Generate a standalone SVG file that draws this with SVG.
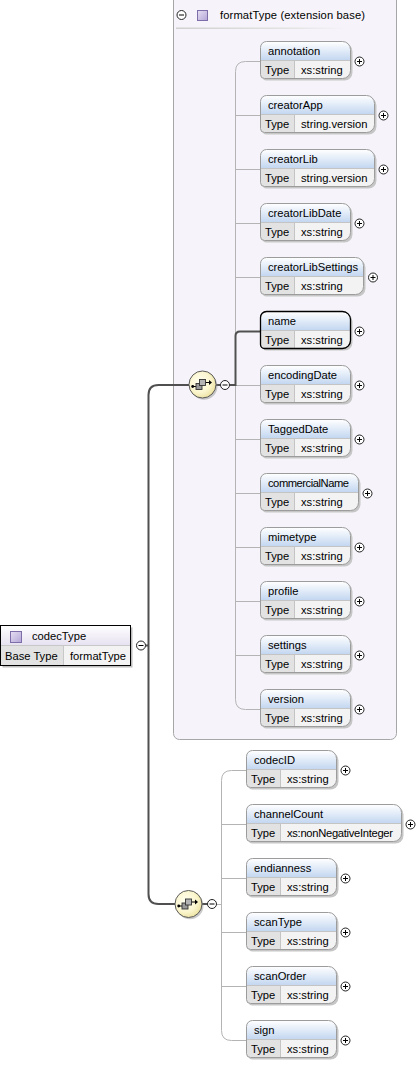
<svg xmlns="http://www.w3.org/2000/svg" xmlns:xlink="http://www.w3.org/1999/xlink" width="418" height="1065" viewBox="0 0 418 1065">
<style>
.t{font-family:"Liberation Sans",Arial,sans-serif;font-size:11.2px;fill:#000}
.sh{fill:#c6c6c6}
.bg{fill:#f3f3f3}
.hd{fill:url(#hg)}
.tc{fill:#e2e2e2}
.dv{fill:none;stroke:#c4c4c4;stroke-width:1}
.bd{fill:none;stroke:#9c9c9c;stroke-width:1}
.sel{fill:none;stroke:#000;stroke-width:1.3}
.dk{fill:none;stroke:#505050;stroke-width:2}
.lt{fill:none;stroke:#b4b4b4;stroke-width:1}
</style>
<defs>
<linearGradient id="hg" x1="0" y1="0" x2="0" y2="1">
<stop offset="0" stop-color="#ffffff"/><stop offset="0.3" stop-color="#edf3fb"/><stop offset="1" stop-color="#c2d6f0"/>
</linearGradient>
<linearGradient id="ctg" x1="0" y1="0" x2="0" y2="1">
<stop offset="0" stop-color="#ffffff"/><stop offset="1" stop-color="#e6e1f0"/>
</linearGradient>
<linearGradient id="icg" x1="0" y1="0" x2="1" y2="1">
<stop offset="0" stop-color="#e6e0f3"/><stop offset="1" stop-color="#b3a5d6"/>
</linearGradient>
<linearGradient id="ulg" x1="0" y1="0" x2="1" y2="0">
<stop offset="0" stop-color="#d0d0d0"/><stop offset="0.7" stop-color="#e4e4e4"/><stop offset="1" stop-color="#f6f4fa"/>
</linearGradient>
<radialGradient id="cg" cx="0.4" cy="0.4" r="0.65">
<stop offset="0" stop-color="#fffff2"/><stop offset="0.6" stop-color="#fbf6cf"/><stop offset="1" stop-color="#ece19e"/>
</radialGradient>
<g id="bx90">
<path class="sh" transform="translate(2,2)" d="M6,0H82A8,8 0 0 1 90,8V29A8,8 0 0 1 82,37H4A4,4 0 0 1 0,33V6A6,6 0 0 1 6,0Z"/>
<path class="bg" d="M6,0H82A8,8 0 0 1 90,8V29A8,8 0 0 1 82,37H4A4,4 0 0 1 0,33V6A6,6 0 0 1 6,0Z"/>
<path class="hd" d="M0,19V6A6,6 0 0 1 6,0H82A8,8 0 0 1 90,8V19Z"/>
<path class="tc" d="M0,19H34V37H4A4,4 0 0 1 0,33Z"/>
<path class="dv" d="M0,19H90M34,19V37"/>
<path class="bd" d="M6,0H82A8,8 0 0 1 90,8V29A8,8 0 0 1 82,37H4A4,4 0 0 1 0,33V6A6,6 0 0 1 6,0Z"/>
</g>
<g id="bx98">
<path class="sh" transform="translate(2,2)" d="M6,0H90A8,8 0 0 1 98,8V29A8,8 0 0 1 90,37H4A4,4 0 0 1 0,33V6A6,6 0 0 1 6,0Z"/>
<path class="bg" d="M6,0H90A8,8 0 0 1 98,8V29A8,8 0 0 1 90,37H4A4,4 0 0 1 0,33V6A6,6 0 0 1 6,0Z"/>
<path class="hd" d="M0,19V6A6,6 0 0 1 6,0H90A8,8 0 0 1 98,8V19Z"/>
<path class="tc" d="M0,19H34V37H4A4,4 0 0 1 0,33Z"/>
<path class="dv" d="M0,19H98M34,19V37"/>
<path class="bd" d="M6,0H90A8,8 0 0 1 98,8V29A8,8 0 0 1 90,37H4A4,4 0 0 1 0,33V6A6,6 0 0 1 6,0Z"/>
</g>
<g id="bx103">
<path class="sh" transform="translate(2,2)" d="M6,0H95A8,8 0 0 1 103,8V29A8,8 0 0 1 95,37H4A4,4 0 0 1 0,33V6A6,6 0 0 1 6,0Z"/>
<path class="bg" d="M6,0H95A8,8 0 0 1 103,8V29A8,8 0 0 1 95,37H4A4,4 0 0 1 0,33V6A6,6 0 0 1 6,0Z"/>
<path class="hd" d="M0,19V6A6,6 0 0 1 6,0H95A8,8 0 0 1 103,8V19Z"/>
<path class="tc" d="M0,19H34V37H4A4,4 0 0 1 0,33Z"/>
<path class="dv" d="M0,19H103M34,19V37"/>
<path class="bd" d="M6,0H95A8,8 0 0 1 103,8V29A8,8 0 0 1 95,37H4A4,4 0 0 1 0,33V6A6,6 0 0 1 6,0Z"/>
</g>
<g id="bx114">
<path class="sh" transform="translate(2,2)" d="M6,0H106A8,8 0 0 1 114,8V29A8,8 0 0 1 106,37H4A4,4 0 0 1 0,33V6A6,6 0 0 1 6,0Z"/>
<path class="bg" d="M6,0H106A8,8 0 0 1 114,8V29A8,8 0 0 1 106,37H4A4,4 0 0 1 0,33V6A6,6 0 0 1 6,0Z"/>
<path class="hd" d="M0,19V6A6,6 0 0 1 6,0H106A8,8 0 0 1 114,8V19Z"/>
<path class="tc" d="M0,19H34V37H4A4,4 0 0 1 0,33Z"/>
<path class="dv" d="M0,19H114M34,19V37"/>
<path class="bd" d="M6,0H106A8,8 0 0 1 114,8V29A8,8 0 0 1 106,37H4A4,4 0 0 1 0,33V6A6,6 0 0 1 6,0Z"/>
</g>
<g id="bx155">
<path class="sh" transform="translate(2,2)" d="M6,0H147A8,8 0 0 1 155,8V29A8,8 0 0 1 147,37H4A4,4 0 0 1 0,33V6A6,6 0 0 1 6,0Z"/>
<path class="bg" d="M6,0H147A8,8 0 0 1 155,8V29A8,8 0 0 1 147,37H4A4,4 0 0 1 0,33V6A6,6 0 0 1 6,0Z"/>
<path class="hd" d="M0,19V6A6,6 0 0 1 6,0H147A8,8 0 0 1 155,8V19Z"/>
<path class="tc" d="M0,19H34V37H4A4,4 0 0 1 0,33Z"/>
<path class="dv" d="M0,19H155M34,19V37"/>
<path class="bd" d="M6,0H147A8,8 0 0 1 155,8V29A8,8 0 0 1 147,37H4A4,4 0 0 1 0,33V6A6,6 0 0 1 6,0Z"/>
</g>
<g id="plus"><circle r="4.5" fill="#fff" stroke="#222"/><path d="M-2.5,0H2.5M0,-2.5V2.5" stroke="#000" stroke-width="1"/></g>
<g id="minus"><circle r="4.5" fill="#fff" stroke="#222"/><path d="M-2.5,0H2.5" stroke="#000" stroke-width="1"/></g>
<g id="seq">
<circle cx="1.5" cy="1.8" r="13.5" fill="#8a8a8a" opacity="0.45"/>
<circle r="13.5" fill="url(#cg)" stroke="#5a5a5a" stroke-width="1"/>
<path d="M-9.5,2H-6.5M2.5,-2H7" stroke="#000" stroke-width="1" fill="none"/>
<circle cx="-9.8" cy="2" r="1.4" fill="#000"/>
<rect x="-6.5" y="-1" width="6" height="6" fill="#9a9a9a" stroke="#333" stroke-width="0.9"/>
<rect x="-3" y="-5" width="6" height="6" fill="#b4b4b4" stroke="#333" stroke-width="0.9"/>
<path d="M6.5,-4.5L9.5,-2L6.5,0.5Z" fill="#000"/>
</g>
</defs>

<rect width="418" height="1065" fill="#fff"/>

<g id="formatType">
<path d="M173.5,-2H396.5V733.5A6,6 0 0 1 390.5,739.5H179.5A6,6 0 0 1 173.5,733.5Z" fill="#f6f4fa" stroke="#a6a6a6"/>
<use href="#minus" x="181.5" y="15"/>
<rect x="197.5" y="10.5" width="10" height="10" fill="url(#icg)" stroke="#7d6eaa"/>
<text class="t" x="220" y="19" textLength="145">formatType (extension base)</text>
<rect x="176" y="27.5" width="170" height="1.5" fill="url(#ulg)"/>
</g>

<g id="connectors">
<path class="lt" d="M260.5,61.5H245.5Q235.5,61.5 235.5,71.5V699.5Q235.5,709.5 245.5,709.5H260.5"/>
<path class="lt" d="M235.5,115.5H260.5M235.5,169.5H260.5M235.5,223.5H260.5M235.5,277.5H260.5M235.5,385.5H260.5M235.5,439.5H260.5M235.5,493.5H260.5M235.5,547.5H260.5M235.5,601.5H260.5M235.5,655.5H260.5"/>
<path class="lt" d="M246.5,770.5H231.5Q221.5,770.5 221.5,780.5V1030.5Q221.5,1040.5 231.5,1040.5H246.5"/>
<path class="lt" d="M221.5,824.5H246.5M221.5,878.5H246.5M221.5,932.5H246.5M221.5,986.5H246.5M216.5,904.5H221.5"/>
<path class="dk" d="M189,385H158.5Q148.5,385 148.5,395V894Q148.5,904 158.5,904H175"/>
<path class="dk" d="M145.5,645.5H148.5"/>
<path class="dk" d="M216,385H220.5"/>
<path class="dk" d="M229.5,385H235.5V336Q235.5,331.5 240,331.5H260.5"/>
<path class="dk" d="M202,904H207.5"/>
</g>

<g id="codecType">
<rect x="2.5" y="627.5" width="130" height="40" fill="#bdbdbd"/>
<rect x="0.5" y="625.5" width="130" height="40" fill="#f3f3f3"/>
<rect x="0.5" y="625.5" width="130" height="20" fill="url(#ctg)"/>
<rect x="0.5" y="645.5" width="63" height="20" fill="#e2e2e2"/>
<path d="M0.5,645.5H130.5M63.5,645.5V665.5" stroke="#c8c8c8" fill="none"/>
<rect x="0.5" y="625.5" width="130" height="40" fill="none" stroke="#000"/>
<rect x="10.5" y="631.5" width="11" height="11" fill="url(#icg)" stroke="#7d6eaa"/>
<text class="t" x="32" y="640">codecType</text>
<text class="t" x="5" y="660">Base Type</text>
<text class="t" x="70" y="660">formatType</text>
<use href="#minus" x="141" y="645.5"/>
</g>

<g id="seq1"><use href="#seq" x="202.5" y="384.5"/><use href="#minus" x="225" y="385"/></g>
<g id="seq2"><use href="#seq" x="188.5" y="904"/><use href="#minus" x="212" y="904"/></g>

<g id="annotation"><use href="#bx90" x="260.5" y="41.5"/><text class="t" x="268" y="55">annotation</text><text class="t" x="265" y="74">Type</text><text class="t" x="301" y="74">xs:string</text><use href="#plus" x="359.5" y="61.5"/></g>
<g id="creatorApp"><use href="#bx114" x="260.5" y="95.5"/><text class="t" x="268" y="109">creatorApp</text><text class="t" x="265" y="128">Type</text><text class="t" x="301" y="128">string.version</text><use href="#plus" x="383.5" y="115.5"/></g>
<g id="creatorLib"><use href="#bx114" x="260.5" y="149.5"/><text class="t" x="268" y="163">creatorLib</text><text class="t" x="265" y="182">Type</text><text class="t" x="301" y="182">string.version</text><use href="#plus" x="383.5" y="169.5"/></g>
<g id="creatorLibDate"><use href="#bx90" x="260.5" y="203.5"/><text class="t" x="268" y="217">creatorLibDate</text><text class="t" x="265" y="236">Type</text><text class="t" x="301" y="236">xs:string</text><use href="#plus" x="359.5" y="223.5"/></g>
<g id="creatorLibSettings"><use href="#bx103" x="260.5" y="257.5"/><text class="t" x="268" y="271">creatorLibSettings</text><text class="t" x="265" y="290">Type</text><text class="t" x="301" y="290">xs:string</text><use href="#plus" x="373" y="277.5"/></g>
<g id="name"><use href="#bx90" x="260.5" y="311.5"/><path class="sel" transform="translate(260.5,311.5)" d="M6,0H82A8,8 0 0 1 90,8V29A8,8 0 0 1 82,37H4A4,4 0 0 1 0,33V6A6,6 0 0 1 6,0Z"/><text class="t" x="268" y="325">name</text><text class="t" x="265" y="344">Type</text><text class="t" x="301" y="344">xs:string</text><use href="#plus" x="359.5" y="331.5"/></g>
<g id="encodingDate"><use href="#bx90" x="260.5" y="365.5"/><text class="t" x="268" y="379">encodingDate</text><text class="t" x="265" y="398">Type</text><text class="t" x="301" y="398">xs:string</text><use href="#plus" x="359.5" y="385.5"/></g>
<g id="TaggedDate"><use href="#bx90" x="260.5" y="419.5"/><text class="t" x="268" y="433">TaggedDate</text><text class="t" x="265" y="452">Type</text><text class="t" x="301" y="452">xs:string</text><use href="#plus" x="359.5" y="439.5"/></g>
<g id="commercialName"><use href="#bx98" x="260.5" y="473.5"/><text class="t" x="268" y="487" textLength="81">commercialName</text><text class="t" x="265" y="506">Type</text><text class="t" x="301" y="506">xs:string</text><use href="#plus" x="367.5" y="493.5"/></g>
<g id="mimetype"><use href="#bx90" x="260.5" y="527.5"/><text class="t" x="268" y="541">mimetype</text><text class="t" x="265" y="560">Type</text><text class="t" x="301" y="560">xs:string</text><use href="#plus" x="359.5" y="547.5"/></g>
<g id="profile"><use href="#bx90" x="260.5" y="581.5"/><text class="t" x="268" y="595">profile</text><text class="t" x="265" y="614">Type</text><text class="t" x="301" y="614">xs:string</text><use href="#plus" x="359.5" y="601.5"/></g>
<g id="settings"><use href="#bx90" x="260.5" y="635.5"/><text class="t" x="268" y="649">settings</text><text class="t" x="265" y="668">Type</text><text class="t" x="301" y="668">xs:string</text><use href="#plus" x="359.5" y="655.5"/></g>
<g id="version"><use href="#bx90" x="260.5" y="689.5"/><text class="t" x="268" y="703">version</text><text class="t" x="265" y="722">Type</text><text class="t" x="301" y="722">xs:string</text><use href="#plus" x="359.5" y="709.5"/></g>

<g id="codecID"><use href="#bx90" x="246.5" y="750.5"/><text class="t" x="254" y="764">codecID</text><text class="t" x="251" y="783">Type</text><text class="t" x="287" y="783">xs:string</text><use href="#plus" x="345.5" y="770.5"/></g>
<g id="channelCount"><use href="#bx155" x="246.5" y="804.5"/><text class="t" x="254" y="818">channelCount</text><text class="t" x="251" y="837">Type</text><text class="t" x="287" y="837" textLength="106">xs:nonNegativeInteger</text><use href="#plus" x="410.5" y="824.5"/></g>
<g id="endianness"><use href="#bx90" x="246.5" y="858.5"/><text class="t" x="254" y="872">endianness</text><text class="t" x="251" y="891">Type</text><text class="t" x="287" y="891">xs:string</text><use href="#plus" x="345.5" y="878.5"/></g>
<g id="scanType"><use href="#bx90" x="246.5" y="912.5"/><text class="t" x="254" y="926">scanType</text><text class="t" x="251" y="945">Type</text><text class="t" x="287" y="945">xs:string</text><use href="#plus" x="345.5" y="932.5"/></g>
<g id="scanOrder"><use href="#bx90" x="246.5" y="966.5"/><text class="t" x="254" y="980">scanOrder</text><text class="t" x="251" y="999">Type</text><text class="t" x="287" y="999">xs:string</text><use href="#plus" x="345.5" y="986.5"/></g>
<g id="sign"><use href="#bx90" x="246.5" y="1020.5"/><text class="t" x="254" y="1034">sign</text><text class="t" x="251" y="1053">Type</text><text class="t" x="287" y="1053">xs:string</text><use href="#plus" x="345.5" y="1040.5"/></g>
</svg>
